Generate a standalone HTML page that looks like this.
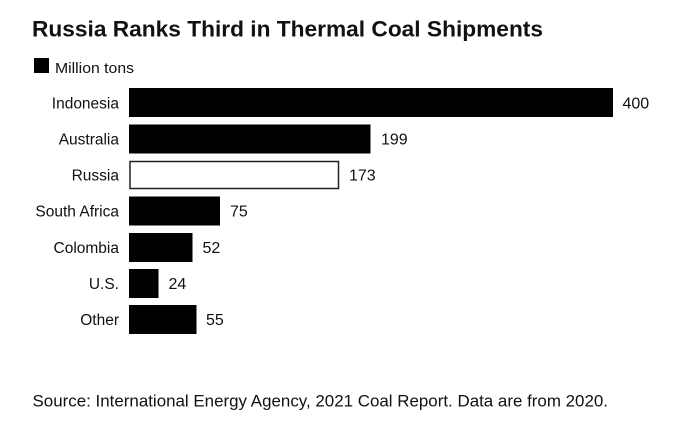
<!DOCTYPE html>
<html><head><meta charset="utf-8"><style>
html,body{margin:0;padding:0;background:#fff;}
svg{display:block;}
text{font-family:"Liberation Sans",Arial,sans-serif;fill:#111;}
</style></head><body>
<svg width="700" height="447" viewBox="0 0 700 447" xmlns="http://www.w3.org/2000/svg">
<rect width="700" height="447" fill="#fff"/>
<text x="32" y="36.5" font-size="22" font-weight="bold" textLength="511" lengthAdjust="spacingAndGlyphs" fill="#000">Russia Ranks Third in Thermal Coal Shipments</text>
<rect x="34" y="58" width="15" height="15" fill="#000"/>
<text x="55" y="73" font-size="15" textLength="79" lengthAdjust="spacingAndGlyphs">Million tons</text>
<g font-size="15.5" text-anchor="end">
<text x="119" y="108.5">Indonesia</text>
<text x="119" y="144.5">Australia</text>
<text x="119" y="180.5">Russia</text>
<text x="119" y="216.5">South Africa</text>
<text x="119" y="253">Colombia</text>
<text x="119" y="289">U.S.</text>
<text x="119" y="325">Other</text>
</g>
<rect x="129" y="88" width="484" height="29" fill="#000"/>
<rect x="129" y="124.5" width="241.5" height="29" fill="#000"/>
<rect x="130" y="161.5" width="208.5" height="27" fill="#fff" stroke="#222" stroke-width="1.5"/>
<rect x="129" y="196.5" width="91" height="29" fill="#000"/>
<rect x="129" y="233" width="63.5" height="29" fill="#000"/>
<rect x="129" y="269" width="29.5" height="29" fill="#000"/>
<rect x="129" y="305" width="67.5" height="29" fill="#000"/>
<g font-size="16">
<text x="622.5" y="108.5">400</text>
<text x="381" y="144.5">199</text>
<text x="349" y="180.5">173</text>
<text x="230" y="216.5">75</text>
<text x="202.5" y="253">52</text>
<text x="168.5" y="289">24</text>
<text x="206" y="325">55</text>
</g>
<text x="32.5" y="406.5" font-size="16.5" textLength="575.5" lengthAdjust="spacingAndGlyphs">Source: International Energy Agency, 2021 Coal Report. Data are from 2020.</text>
</svg>
</body></html>
